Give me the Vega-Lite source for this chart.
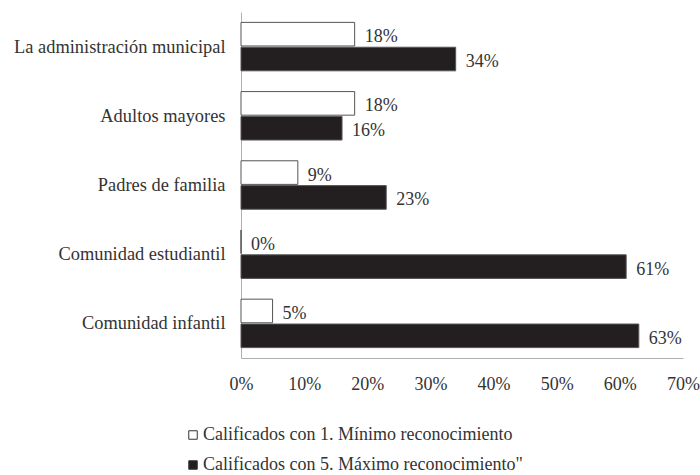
{
  "$schema": "https://vega.github.io/schema/vega-lite/v6.json",
  "width": 442,
  "height": 346,
  "autosize": "none",
  "padding": {"left": 241, "top": 12, "right": 17, "bottom": 117},
  "background": "white",
  "config": {
    "font": "Liberation Serif",
    "view": {"stroke": null}
  },
  "data": {
    "values": [
      {"categoria": "La administración municipal", "serie": "Calificados con 1. Mínimo reconocimiento", "valor": 0.18},
      {"categoria": "La administración municipal", "serie": "Calificados con 5. Máximo reconocimiento\"", "valor": 0.34},
      {"categoria": "Adultos mayores", "serie": "Calificados con 1. Mínimo reconocimiento", "valor": 0.18},
      {"categoria": "Adultos mayores", "serie": "Calificados con 5. Máximo reconocimiento\"", "valor": 0.16},
      {"categoria": "Padres de familia", "serie": "Calificados con 1. Mínimo reconocimiento", "valor": 0.09},
      {"categoria": "Padres de familia", "serie": "Calificados con 5. Máximo reconocimiento\"", "valor": 0.23},
      {"categoria": "Comunidad estudiantil", "serie": "Calificados con 1. Mínimo reconocimiento", "valor": 0.0},
      {"categoria": "Comunidad estudiantil", "serie": "Calificados con 5. Máximo reconocimiento\"", "valor": 0.61},
      {"categoria": "Comunidad infantil", "serie": "Calificados con 1. Mínimo reconocimiento", "valor": 0.05},
      {"categoria": "Comunidad infantil", "serie": "Calificados con 5. Máximo reconocimiento\"", "valor": 0.63}
    ]
  },
  "encoding": {
    "y": {
      "field": "categoria",
      "type": "nominal",
      "sort": ["La administración municipal", "Adultos mayores", "Padres de familia", "Comunidad estudiantil", "Comunidad infantil"],
      "scale": {"paddingInner": 0.3, "paddingOuter": 0.15},
      "axis": {
        "title": null,
        "ticks": false,
        "domainColor": "#b0b0b0",
        "labelFont": "Liberation Serif",
        "labelFontSize": 18.4,
        "labelColor": "#333333",
        "labelPadding": 16,
        "labelLimit": 300
      }
    },
    "yOffset": {
      "field": "serie",
      "type": "nominal",
      "sort": ["Calificados con 1. Mínimo reconocimiento", "Calificados con 5. Máximo reconocimiento\""],
      "scale": {"paddingInner": 0.05}
    },
    "x": {
      "field": "valor",
      "type": "quantitative",
      "scale": {"domain": [0, 0.7], "nice": false},
      "axis": {
        "title": null,
        "format": ".0%",
        "values": [0, 0.1, 0.2, 0.3, 0.4, 0.5, 0.6, 0.7],
        "grid": false,
        "ticks": false,
        "domainColor": "#b0b0b0",
        "labelFont": "Liberation Serif",
        "labelFontSize": 18,
        "labelColor": "#333333",
        "labelPadding": 17,
        "labelFlush": false
      }
    }
  },
  "layer": [
    {
      "mark": {"type": "bar", "stroke": "#555555", "strokeWidth": 1},
      "encoding": {
        "color": {
          "field": "serie",
          "type": "nominal",
          "sort": ["Calificados con 1. Mínimo reconocimiento", "Calificados con 5. Máximo reconocimiento\""],
          "scale": {"range": ["#ffffff", "#231f20"]},
          "legend": {
            "title": null,
            "orient": "none",
            "legendX": -57,
            "legendY": 414,
            "direction": "vertical",
            "symbolType": "square",
            "symbolSize": 72,
            "symbolStrokeColor": "#333333",
            "symbolStrokeWidth": 1,
            "labelFont": "Liberation Serif",
            "labelFontSize": 18,
            "labelColor": "#333333",
            "labelOffset": 1,
            "rowPadding": 12,
            "labelLimit": 400
          }
        }
      }
    },
    {
      "mark": {"type": "text", "align": "left", "baseline": "middle", "dx": 10, "dy": 3, "font": "Liberation Serif", "fontSize": 18, "color": "#333333"},
      "encoding": {
        "text": {"field": "valor", "type": "quantitative", "format": ".0%"}
      }
    }
  ]
}
